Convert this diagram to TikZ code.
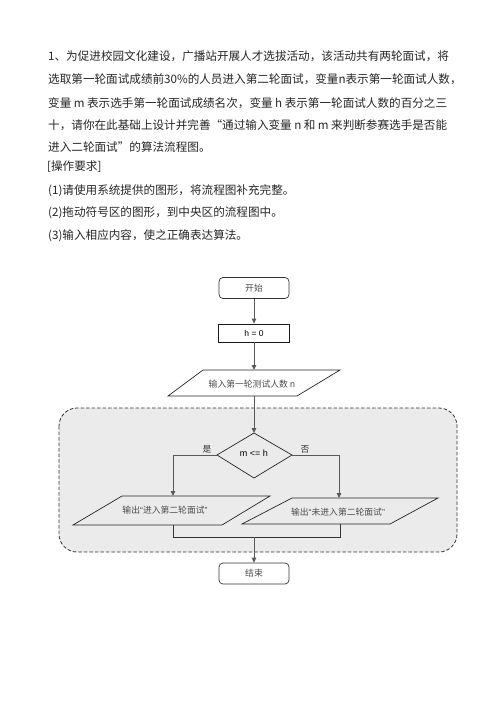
\documentclass[tikz,border=0pt]{standalone}
\usepackage{fontspec}
\setmainfont{Noto Sans CJK SC}
\newfontfamily\latf{Liberation Sans}
\usetikzlibrary{arrows.meta}
\XeTeXinterchartokenstate=1
\newcommand\cjkglue{\hskip0pt plus 2pt\relax}
\XeTeXinterchartoks 1 1 = {\cjkglue}
\XeTeXinterchartoks 1 2 = {\cjkglue}
\XeTeXinterchartoks 1 3 = {\cjkglue}
\XeTeXinterchartoks 2 1 = {\cjkglue}
\XeTeXinterchartoks 3 1 = {\cjkglue}
\XeTeXinterchartoks 3 2 = {\cjkglue}
\XeTeXinterchartoks 0 1 = {\cjkglue}
\XeTeXinterchartoks 1 0 = {\cjkglue}
\XeTeXinterchartoks 3 0 = {\cjkglue}
\XeTeXinterchartoks 0 2 = {\cjkglue}
\newcommand\myoq{{\latf “}}
\newcommand\mycq{{\latf ”}}
\begin{document}
\begin{tikzpicture}[x=1pt,y=-1pt,
  txt/.style={anchor=west,inner sep=0pt,font=\fontsize{11.6}{14}\selectfont,text=black!85},
  conn/.style={draw=black!65,line width=0.9pt},
  arr/.style={conn,-{Triangle[length=5pt,width=4.5pt]}},
  lbl/.style={inner sep=0pt,font=\fontsize{8.8}{11}\selectfont,text=black!70},
  term/.style={draw=black!80,line width=0.7pt,rounded corners=4pt,minimum width=70pt,minimum height=21pt,inner sep=0pt,fill=white,lbl},
  proc/.style={draw=black!90,line width=0.8pt,minimum width=71pt,minimum height=18pt,inner sep=0pt,fill=white,font=\latf\fontsize{8.5}{10}\selectfont},
  io/.style={draw=black!85,line width=0.7pt},
  grp/.style={draw=black!80,dash pattern=on 3.5pt off 2pt,line width=0.8pt,fill=black!8,rounded corners=18pt},
]
\useasboundingbox (0,0) rectangle (496,702);
\fill[white] (0,0) rectangle (496,702);

% question text
\node[txt] (t1) at (48,56) {\makebox[399pt][s]{1、为促进校园文化建设，广播站开展人才选拔活动，该活动共有两轮面试，将}};
\node[txt] (t2) at (48,79) {\makebox[399pt][s]{选取第一轮面试成绩前30\%的人员进入第二轮面试，变量n表示第一轮面试人数，}};
\node[txt] (t3) at (48,103) {\makebox[399pt][s]{变量 m 表示选手第一轮面试成绩名次，变量 h 表示第一轮面试人数的百分之三}};
\node[txt] (t4) at (48,125) {\makebox[399pt][s]{十，请你在此基础上设计并完善“通过输入变量 n 和 m 来判断参赛选手是否能}};
\node[txt] (t5) at (48,147) {进入二轮面试”的算法流程图。};
\node[txt] (t6) at (47,167) {[操作要求]};
\node[txt] (t7) at (48,191) {(1)请使用系统提供的图形，将流程图补充完整。};
\node[txt] (t8) at (48,213) {(2)拖动符号区的图形，到中央区的流程图中。};
\node[txt] (t9) at (48,236) {(3)输入相应内容，使之正确表达算法。};

% group background
\draw[grp] (59,408) rectangle (457,552);

% flowchart nodes
\node[term] (start) at (254,288) {开始};
\node[proc] (init) at (254,333) {h = 0};

\draw[io,fill=white] (203,370) -- (340,370) -- (297,396) -- (168,396) -- cycle;
\node[lbl] (inp) at (252,384) {输入第一轮测试人数 n};
\coordinate (inpT) at (254,370);
\coordinate (inpB) at (254,396);

\draw[io] (254,433) -- (292,455) -- (254,478) -- (217,455) -- cycle;
\coordinate (dT) at (254,433);
\coordinate (dL) at (217,455);
\coordinate (dR) at (292,455);
\node[inner sep=0pt,font=\latf\fontsize{9}{11}\selectfont] (cond) at (254,453) {m <= h};
\node[lbl,text=black!80] (yes) at (207,449) {是};
\node[lbl,text=black!80] (no) at (305,449) {否};

\draw[io] (122,496) -- (270,496) -- (222,525) -- (73,525) -- cycle;
\node[lbl] (outY) at (165,510) {输出\myoq 进入第二轮面试\mycq};
\coordinate (oYT) at (173,496);
\coordinate (oYB) at (173,525);

\draw[io] (292,498) -- (438,498) -- (390,524) -- (242,524) -- cycle;
\node[lbl] (outN) at (338,512) {输出\myoq 未进入第二轮面试\mycq};
\coordinate (oNT) at (339,498);
\coordinate (oNB) at (340,524);

\coordinate (mL) at (173,537);
\coordinate (mR) at (340,537);
\coordinate (mC) at (254,537);

\node[term] (stop) at (254,573.5) {结束};

% connectors
\draw[arr] (start) -- (init);
\draw[arr] (init) -- (inpT);
\draw[arr] (inpB) -- (dT);
\draw[arr] (dL) -| (oYT);
\draw[arr] (dR) -| (oNT);
\draw[conn,draw=black!80] (oYB) -- (mL) -- (mR) -- (oNB);
\draw[arr] (mC) -- (stop);
\end{tikzpicture}
\end{document}
